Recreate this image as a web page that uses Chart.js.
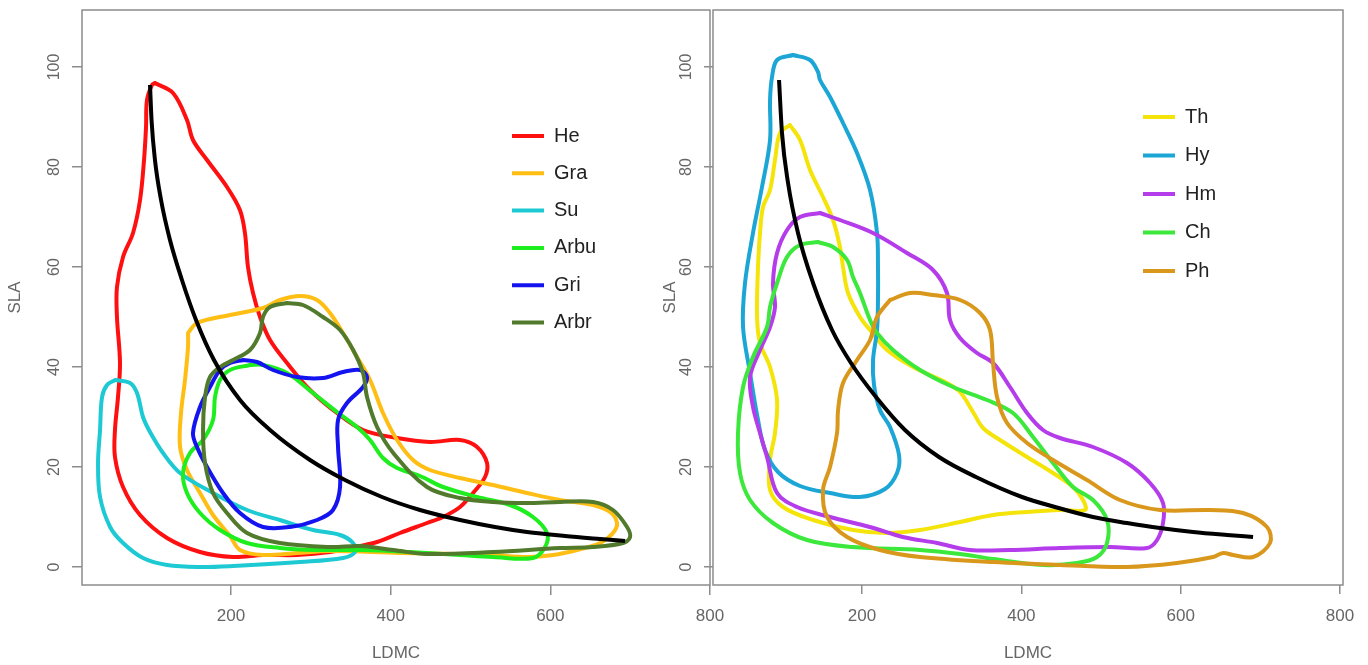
<!DOCTYPE html>
<html><head><meta charset="utf-8">
<script src="https://cdn.jsdelivr.net/npm/chart.js@4.4.1/dist/chart.umd.min.js"></script>
<style>
html,body{margin:0;padding:0;background:#fff;width:1368px;height:665px;overflow:hidden;}
#c1{position:absolute;left:0;top:0;}
#c2{position:absolute;left:655px;top:0;}
</style></head><body>
<canvas id="c1" width="740" height="665"></canvas>
<canvas id="c2" width="713" height="665"></canvas>
<script>
// ---- tick labels ----
const xTicks = [200, 400, 600, 800];
const yTicks = [0, 20, 40, 60, 80, 100];

// ---- left panel: growth forms (LDMC, SLA) ----
const He = [[104.8,96.8],[127.4,94.8],[144.9,89.4],[152.4,85.4],[170,81.4],[195,76],[211.2,71.4],[217.5,66.8],[221.3,60],[227.6,54.8],[236.4,50],[248.9,45.4],[270.2,40.8],[299,35.4],[332.8,30.8],[365.4,27.4],[408,25.8],[449.3,25],[486.9,25.4],[508.2,24],[520.7,20.8],[518.2,18],[503.2,14.8],[486.9,12],[465.6,10],[445.6,8.8],[411.7,6.8],[382.9,5],[361.6,4.2],[324,3],[282.6,2.4],[240.1,2.4],[202.5,2],[161.2,3],[119.9,5.8],[86.1,10.4],[64.8,16],[54.7,22],[54.7,27.4],[58.5,34],[61,40.8],[57.2,50],[57.2,56],[64.8,62],[77.3,66.8],[86.1,73.4],[91.1,81.4],[93.6,88],[94.8,93.4],[101.1,96.4],[104.8,96.8]];
const Gra = [[146.2,46.8],[157.5,48.8],[198.8,50.4],[240.1,51.8],[261.4,53.4],[286.5,54.2],[307.8,53.4],[324,50.8],[340.3,46.8],[357.9,42],[374.2,37.4],[390.4,30.8],[408,25.4],[428,21.4],[449.3,19.4],[486.9,17.8],[528.2,16.4],[570.8,14.8],[612.1,13.4],[653.5,12.4],[674.8,11],[683.5,8.8],[678.5,6.8],[662.3,4.8],[633.5,3.4],[603.5,2.4],[570.8,2],[528.2,2.4],[486.9,2.6],[411.7,2.8],[324,3.2],[282.6,2.8],[240.1,2.4],[211.3,3.4],[198.8,6.2],[177.5,10.4],[161.2,14.8],[144.9,19.4],[136.2,24],[137.4,30.8],[142.4,37.4],[146.2,44],[146.2,46.8]];
const Su = [[54.9,37.4],[73.6,36.8],[82.3,34.8],[89.8,30],[98.6,27],[114.9,22.8],[136.2,18.8],[177.5,14.8],[220.1,11.4],[261.4,9.4],[302.8,7.4],[336.6,6.4],[352.9,4.8],[355.4,3],[340.3,1.8],[286.5,1],[202.6,0.2],[161.2,0],[119.9,0.4],[89.8,1.8],[64.8,4.8],[48.6,8],[36,14],[33.5,20.8],[36,27.4],[38.5,34],[44.8,36.4],[54.9,37.4]];
const Arbu = [[223.8,40.4],[240.1,40.4],[270.2,38.8],[302.8,34.8],[332.8,31],[357.9,28],[374.2,25.4],[390.4,21.8],[408,19.8],[436.8,18.2],[465.6,16],[508.2,14],[549.5,12.4],[578.3,10],[595.9,6.8],[593.4,4],[578.3,1.8],[528.2,2],[486.9,2.4],[424.3,3],[365.4,3.4],[302.8,3.4],[261.4,3.8],[220.1,4.8],[186.3,7.4],[161.2,10.8],[144.9,14.8],[139.9,18.8],[148.7,22.8],[165,25.4],[177.5,29.4],[180,34],[186.3,37.4],[198.8,39.4],[223.8,40.4]];
const Gri = [[215.4,41.4],[198.8,40.8],[186.3,39.4],[173.7,36],[161.2,32],[152.4,26.8],[157.4,24],[170,20],[190,14.8],[211.3,10.8],[240.1,8],[273.9,8],[307.8,9.4],[327.8,11.4],[336.6,16],[334.1,24],[334.1,29.4],[345.3,32.8],[365.4,36],[370.4,38],[361.6,39.4],[340.3,39],[315.3,37.8],[282.6,38],[252.6,39.4],[232.6,41],[215.4,41.4]];
const Arbr = [[270.2,52.8],[248.9,52],[240.1,50],[236.4,46.8],[223.8,43.4],[202.6,41.4],[186.3,40],[173.7,38],[167.5,34],[165,27.4],[167.5,20.8],[177.5,14.8],[195,10.8],[220.1,6.8],[261.4,4.8],[324,4],[361.6,4.2],[403.3,3.4],[445.6,2.6],[528.2,3],[612.1,3.8],[653.5,4],[691.1,4.8],[699.9,6],[696.1,8],[678.5,11.4],[653.5,13],[612.1,13],[570.8,12.8],[528.2,13],[486.9,13.8],[445.6,16],[403.3,22.8],[383,28],[370.4,34],[365.4,38.8],[353,43.4],[336.6,47.4],[315.3,50],[290.1,52.4],[270.2,52.8]];
const fitLeft = [[98.6,96.4],[100.5,89.4],[104.8,81.4],[112.4,73.4],[123.6,65.4],[138.6,57.4],[156.2,49.4],[178.7,41.4],[211.3,33.4],[248.9,27.4],[299,21.4],[342.8,17.4],[389.2,14],[436.8,11.4],[486.9,9.4],[530.7,8],[570.8,7],[618.4,6.2],[662.3,5.6],[693.6,5.2]];

// ---- right panel: life forms (LDMC, SLA) ----
const Th = [[109.5,88.4],[122.1,85.4],[134.7,79.4],[151,74],[163.6,69.4],[172.3,64],[176.1,60],[182.4,54.8],[197.4,50],[210,47.4],[231.3,43.4],[264,40],[306.6,36.8],[323,35],[339.3,31],[351.9,27.8],[373.2,25.4],[407.1,22],[439.7,18.8],[464.8,16],[477.4,13.4],[479.9,11.4],[448.5,11.4],[407.1,11],[364.5,10.4],[323,9],[272.8,7.4],[231.3,6.8],[188.6,7.4],[138.4,9.4],[100.8,12],[84.5,15.4],[84.5,21.4],[90.7,26.8],[93.3,33.4],[84.5,40],[71.9,44.8],[68.2,50],[69.4,60],[71.9,66.8],[75.7,72],[84.5,75.4],[90.7,81.4],[97,86.8],[109.5,88.4]];
const Hy = [[113.3,102.4],[134.7,101.4],[144.7,99],[147.2,97.4],[159.8,94],[176.1,88.8],[193.7,82.8],[210,75.4],[218.8,66.8],[220,60],[220,53.4],[218.8,47.4],[213.8,41.4],[215,36.4],[222.5,31.4],[235.1,28],[246.4,22.4],[243.9,18.8],[228.8,15.6],[197.4,14],[159.8,14.8],[122.1,16.2],[94.5,19],[78.2,23.4],[69.4,29.4],[59.4,38.8],[50.6,48],[53.1,56.8],[63.1,66.8],[74.4,76],[84.5,85.4],[84.5,93.4],[87,98],[93.3,101.4],[113.3,102.4]];
const Hm = [[147.2,70.8],[172.3,69.4],[213.8,66.8],[256.4,62.8],[289,59.4],[306.6,54.8],[310.4,49.4],[323,45.8],[344.3,42.8],[364.5,40.8],[385.7,36],[407.1,30.8],[427.1,27.4],[448.5,25.8],[489.9,24],[532.6,20.8],[561.5,16.8],[577.8,12.8],[577.8,8.8],[570.3,5.4],[557.7,3.8],[511.3,4],[448.5,3.8],[385.7,3.4],[335.5,3.4],[294.1,4.8],[251.1,6],[209.7,8],[159.8,10],[118.4,12],[93.3,14.8],[80.7,22],[71.9,26.8],[63.1,32],[59.4,38],[71.9,43.4],[84.5,48],[90.7,52],[88.2,56.8],[93.3,62.8],[105.8,67.4],[122.1,70],[147.2,70.8]];
const Ch = [[144.7,65],[163.6,64],[181.2,61.4],[188.6,58],[197.4,54.8],[210,49.4],[218.8,46.8],[238.9,43.4],[272.8,39.4],[314.2,36],[356.9,33.4],[389.5,30.8],[414.6,26],[439.7,20.8],[464.8,16],[489.9,13.4],[507.5,9.4],[507.5,4.8],[494.9,2],[469.8,0.8],[427.1,0.4],[364.5,1.6],[323,2.6],[272.8,3.4],[188.6,4],[130.9,5.4],[88.2,8.8],[59.4,13.4],[46.8,18.8],[44.3,26.8],[50.6,36],[63.1,42],[80.7,48],[84.5,52],[93.3,56.8],[105.8,62],[122.1,64.4],[144.7,65]];
const Ph = [[235.1,53.4],[260.2,54.8],[289,54.4],[323,53.4],[348.1,50.8],[360.6,47.4],[364.4,40.8],[369.4,34],[382,28.8],[407.1,24.8],[439.7,21.4],[482.4,17.4],[523.8,13.4],[574,11.4],[636.8,11.4],[678.2,10.8],[708.3,8],[712.1,4.8],[690.8,2],[665.7,2.4],[653.2,2.8],[640.6,2],[595.4,0.8],[532.6,0],[448.5,0.4],[364.5,1],[272.8,2],[222.5,3.4],[181.2,6],[156.1,10],[151,15.4],[159.8,20],[168.6,26.8],[169.9,31.4],[176.1,36.8],[193.7,41.4],[210,45.4],[218.8,50],[235.1,53.4]];
const fitRight = [[95.8,97.4],[99.5,86.8],[107.1,76.8],[119.6,66.8],[138.5,56.8],[162.3,47.4],[186.1,40.8],[217.5,34],[253.9,27.4],[296.6,22],[343,18],[400.8,14],[442.2,12],[489.9,10],[532.6,8.8],[574,7.8],[615.5,7],[658.2,6.4],[690.8,6]];

const leftSeries = [
  {label: 'He', data: He, color: '#FF1010'},
  {label: 'Gra', data: Gra, color: '#FFBE14'},
  {label: 'Su', data: Su, color: '#1DC9D3'},
  {label: 'Arbu', data: Arbu, color: '#1EEE1E'},
  {label: 'Gri', data: Gri, color: '#1414F0'},
  {label: 'Arbr', data: Arbr, color: '#527A2C'}
];
const rightSeries = [
  {label: 'Th', data: Th, color: '#F5E40A'},
  {label: 'Hy', data: Hy, color: '#1BA6D6'},
  {label: 'Hm', data: Hm, color: '#B43CEB'},
  {label: 'Ch', data: Ch, color: '#3BE83B'},
  {label: 'Ph', data: Ph, color: '#D9981C'}
];

const FONT = '"Liberation Sans", Arial, Helvetica, sans-serif';
const textGray = '#666666';
const axisGray = '#8c8c8c';

function datasets(series, fit) {
  const n = series.length;
  const ds = series.map((s, i) => ({
    label: s.label, data: s.data,
    borderColor: s.color, backgroundColor: s.color,
    pointBorderColor: s.color, pointBackgroundColor: s.color, pointBorderWidth: 4,
    borderWidth: 4, pointRadius: 0, pointHoverRadius: 0, showLine: true,
    tension: 0.35, borderCapStyle: 'round', borderJoinStyle: 'round',
    order: n - i, inLegend: true
  }));
  ds.push({
    label: '', data: fit, borderColor: '#000', backgroundColor: '#000',
    pointBorderColor: '#000', pointBorderWidth: 4,
    borderWidth: 4, pointRadius: 0, pointHoverRadius: 0, showLine: true,
    cubicInterpolationMode: 'monotone', borderCapStyle: 'butt', order: 0, inLegend: false
  });
  return ds;
}

const zeroPad = s => { s.paddingLeft = 0; s.paddingRight = 0; s.paddingTop = 0; s.paddingBottom = 0; };

function scales(o) {
  return {
    x: {
      type: 'linear', position: 'bottom', min: o.xmin, max: o.xmax,
      afterBuildTicks: s => { s.ticks = xTicks.map(v => ({value: v})); },
      afterFit: s => { s.height = 80; zeroPad(s); },
      grid: {display: true, drawOnChartArea: false, drawTicks: true, tickLength: o.xtl, color: axisGray, lineWidth: 1.5},
      border: {display: false},
      ticks: {padding: o.xpad, color: textGray, font: {family: FONT, size: 17}, minRotation: 0, maxRotation: 0, autoSkip: false},
      title: {display: true, text: 'LDMC', color: textGray, font: {family: FONT, size: 17}, padding: {top: 0, bottom: 1}}
    },
    y: {
      type: 'linear', position: 'left', min: -3.6, max: 111.4,
      afterBuildTicks: s => { s.ticks = yTicks.map(v => ({value: v})); },
      afterFit: s => { s.width = o.yw; zeroPad(s); },
      grid: {display: true, drawOnChartArea: false, drawTicks: true, tickLength: o.ytl, color: axisGray, lineWidth: 1.5},
      border: {display: false},
      ticks: {padding: 4, color: textGray, font: {family: FONT, size: 16}, minRotation: 90, maxRotation: 90, crossAlign: 'center', autoSkip: false},
      title: {display: true, text: 'SLA', color: textGray, font: {family: FONT, size: 17}, padding: {top: 5, bottom: 0}}
    }
  };
}

const boxPlugin = {
  id: 'plotBox',
  afterDraw(chart) {
    const a = chart.chartArea, ctx = chart.ctx;
    ctx.save();
    ctx.strokeStyle = axisGray; ctx.lineWidth = 1.5;
    ctx.strokeRect(a.left, a.top, a.right - a.left, a.bottom - a.top);
    ctx.restore();
  }
};
const legendPlace = {
  id: 'legendPlace',
  afterLayout(chart, args, opts) {
    const lg = chart.legend;
    if (!lg) return;
    const lo = chart.options.plugins.legend.labels;
    const pad = lo.padding, fs = lo.font.size;
    lg.left = opts.x - pad;
    lg.top = opts.y - fs / 2 - pad;
    lg.right = lg.left + lg.width;
    lg.bottom = lg.top + 600;
  }
};

function makeChart(id, series, fit, o) {
  return new Chart(document.getElementById(id), {
    type: 'scatter',
    data: {datasets: datasets(series, fit)},
    options: {
      responsive: false, maintainAspectRatio: false, animation: false,
      events: [],
      layout: {padding: {left: 0, right: o.padRight, top: 10, bottom: 0}},
      scales: scales(o),
      plugins: {
        tooltip: {enabled: false},
        legend: {
          display: true, position: 'chartArea', align: 'start',
          labels: {
            usePointStyle: true, pointStyle: 'line', pointStyleWidth: 32,
            padding: o.legPad, color: '#222222', font: {family: FONT, size: 20},
            filter: (item, data) => data.datasets[item.datasetIndex].inLegend,
            sort: (a, b) => a.datasetIndex - b.datasetIndex
          }
        },
        legendPlace: {x: o.legX, y: o.legY}
      }
    },
    plugins: [boxPlugin, legendPlace]
  });
}

makeChart('c1', leftSeries, fitLeft, {
  xmin: 13.4, xmax: 800, xtl: 10, xpad: 11, yw: 82, ytl: 10, padRight: 30,
  legX: 512, legY: 136, legPad: 17.3
});
makeChart('c2', rightSeries, fitRight, {
  xmin: 12.9, xmax: 803.7, xtl: 9, xpad: 12, yw: 58, ytl: 9, padRight: 25,
  legX: 488, legY: 117, legPad: 18.5
});
</script>
</body></html>
